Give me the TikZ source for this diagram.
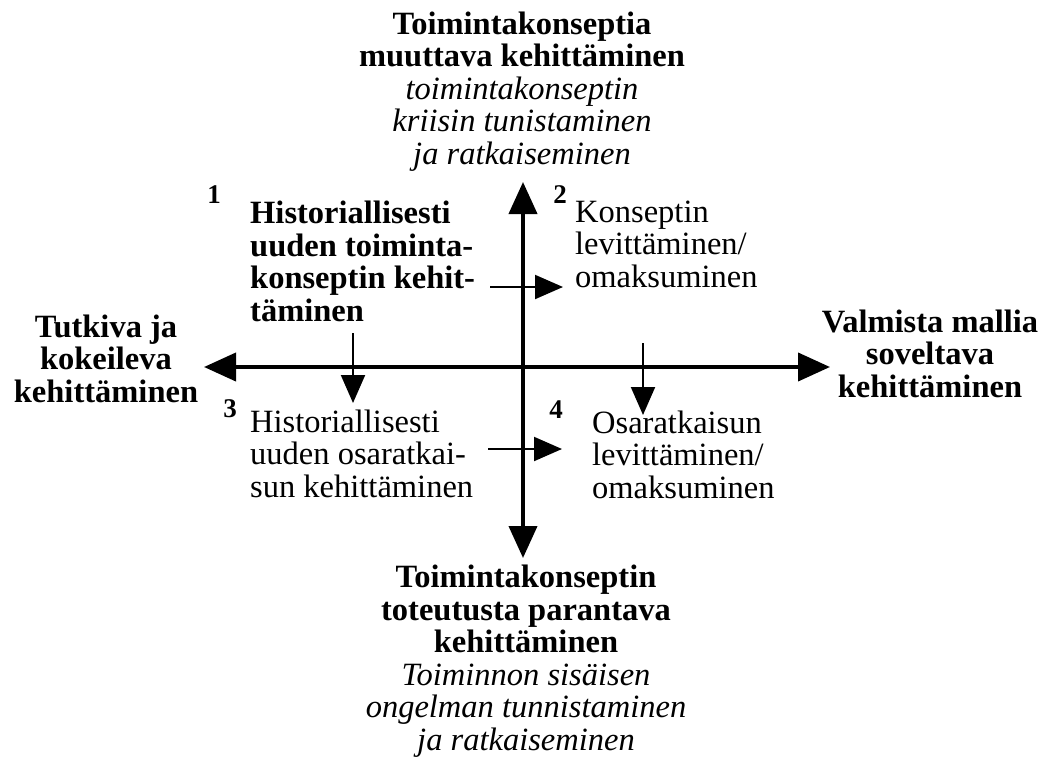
\documentclass[tikz,border=0pt]{standalone}
\usepackage{fontspec}
\setmainfont{Liberation Serif}
\usetikzlibrary{arrows.meta}
\begin{document}
\begin{tikzpicture}[x=1pt,y=-1pt,
  txt/.style={inner sep=0pt, font=\fontsize{32.5}{32.5}\selectfont},
  bold/.style={inner sep=0pt, font=\fontsize{32.5}{32.5}\selectfont\bfseries},
  num/.style={inner sep=0pt, anchor=base, font=\fontsize{27}{27}\selectfont\bfseries},
  axis/.style={line width=4pt, {Triangle[length=32pt,width=28pt]}-{Triangle[length=32pt,width=28pt]}},
  small/.style={line width=2pt, -{Triangle[length=28pt,width=24pt]}}]
\useasboundingbox (0,0) rectangle (1046,760);
% texts (anchor = baseline of the last line)
\node[txt, align=center, anchor=base] (top) at (522,164)
  {\textbf{Toimintakonseptia}\\\textbf{muuttava kehittäminen}\\\textit{toimintakonseptin}\\\textit{kriisin tunistaminen}\\\textit{ja ratkaiseminen}};
\node[txt, align=center, anchor=base] (bottom) at (526,750)
  {\textbf{Toimintakonseptin}\\\textbf{toteutusta parantava}\\\textbf{kehittäminen}\\\textit{Toiminnon sisäisen}\\\textit{ongelman tunnistaminen}\\\textit{ja ratkaiseminen}};
\node[bold, align=center, anchor=base] (left) at (106,402) {Tutkiva ja\\kokeileva\\kehittäminen};
\node[bold, align=center, anchor=base] (right) at (930,397) {Valmista mallia\\soveltava\\kehittäminen};
\node[bold, align=left, anchor=base west] (q1) at (250,321) {Historiallisesti\\uuden toiminta-\\konseptin kehit-\\täminen};
\node[txt, align=left, anchor=base west] (q2) at (575,287) {Konseptin\\levittäminen/\\omaksuminen};
\node[txt, align=left, anchor=base west] (q3) at (250,497) {Historiallisesti\\uuden osaratkai-\\sun kehittäminen};
\node[txt, align=left, anchor=base west] (q4) at (592,498) {Osaratkaisun\\levittäminen/\\omaksuminen};
\node[num] (n1) at (214,203) {1};
\node[num] (n2) at (560,203) {2};
\node[num] (n3) at (230,417) {3};
\node[num] (n4) at (556,418) {4};
% axes
\coordinate (L) at (204,367);
\coordinate (R) at (830,367);
\coordinate (T) at (523,182);
\coordinate (B) at (523,558);
\draw[axis] (L) -- (R);
\draw[axis] (T) -- (B);
% small arrows
\coordinate (a1) at (490,287); \coordinate (a2) at (563,287);
\coordinate (b1) at (353,333); \coordinate (b2) at (353,403);
\coordinate (c1) at (643,343); \coordinate (c2) at (643,415);
\coordinate (d1) at (488,449); \coordinate (d2) at (562,449);
\draw[small] (a1) -- (a2);
\draw[small] (b1) -- (b2);
\draw[small] (c1) -- (c2);
\draw[small] (d1) -- (d2);
\end{tikzpicture}
\end{document}
